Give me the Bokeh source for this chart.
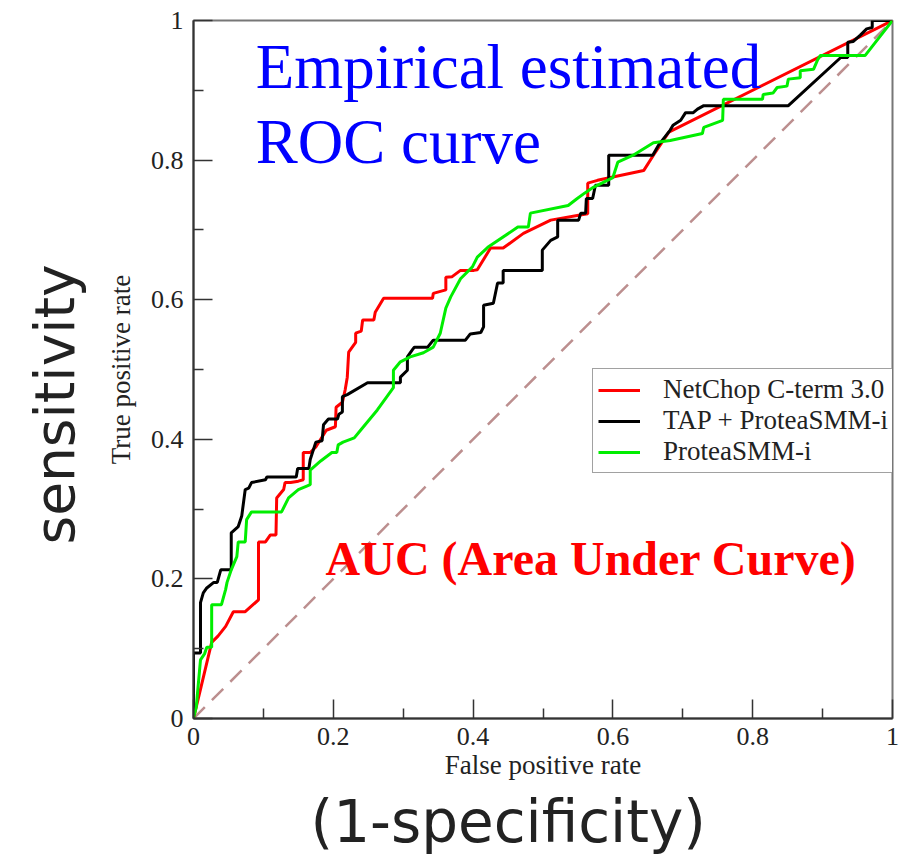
import math
from bokeh.plotting import figure
from bokeh.models import (Range1d, FixedTicker, CustomJSTickFormatter, Label,
                          Legend, LegendItem, Title)
from bokeh.embed import file_html
from bokeh.resources import INLINE

# ---------------- data ----------------
netchop_fpr = [0, 0.011, 0.026, 0.035, 0.046, 0.057, 0.074, 0.093, 0.093, 0.103, 0.110, 0.118,
               0.119, 0.129, 0.131, 0.139, 0.150, 0.157, 0.157, 0.167, 0.175, 0.190, 0.203,
               0.204, 0.213, 0.217, 0.220, 0.222, 0.232, 0.232, 0.240, 0.242, 0.258, 0.260,
               0.272, 0.342, 0.343, 0.361, 0.361, 0.370, 0.382, 0.401, 0.406, 0.425, 0.443,
               0.472, 0.511, 0.551, 0.564, 0.564, 0.578, 0.644, 0.658, 0.680, 1.0]
netchop_tpr = [0, 0.046, 0.109, 0.118, 0.132, 0.153, 0.153, 0.170, 0.253, 0.253, 0.263, 0.263,
               0.316, 0.328, 0.338, 0.338, 0.340, 0.342, 0.381, 0.381, 0.389, 0.413, 0.418,
               0.446, 0.453, 0.471, 0.489, 0.525, 0.539, 0.552, 0.555, 0.571, 0.571, 0.582,
               0.602, 0.602, 0.609, 0.614, 0.632, 0.633, 0.642, 0.642, 0.643, 0.674, 0.674,
               0.695, 0.714, 0.721, 0.723, 0.767, 0.771, 0.785, 0.807, 0.840, 1.0]

tap_fpr = [0, 0, 0.010, 0.010, 0.014, 0.019, 0.029, 0.034, 0.039, 0.054, 0.054, 0.064, 0.069,
           0.074, 0.079, 0.083, 0.103, 0.105, 0.147, 0.149, 0.165, 0.167, 0.175, 0.184, 0.186,
           0.193, 0.206, 0.208, 0.213, 0.213, 0.220, 0.249, 0.296, 0.296, 0.306, 0.306, 0.313,
           0.316, 0.335, 0.343, 0.389, 0.396, 0.411, 0.415, 0.415, 0.429, 0.435, 0.443, 0.443,
           0.499, 0.499, 0.511, 0.521, 0.521, 0.551, 0.554, 0.561, 0.562, 0.571, 0.575, 0.594,
           0.594, 0.657, 0.665, 0.682, 0.686, 0.697, 0.704, 0.715, 0.721, 0.730, 0.851, 0.926,
           0.936, 0.936, 0.944, 0.954, 0.963, 0.971, 0.971, 1.0]
tap_tpr = [0, 0.094, 0.094, 0.166, 0.180, 0.187, 0.195, 0.195, 0.213, 0.213, 0.266, 0.275, 0.290,
           0.328, 0.330, 0.338, 0.342, 0.346, 0.346, 0.358, 0.358, 0.371, 0.396, 0.398, 0.421,
           0.429, 0.429, 0.436, 0.439, 0.461, 0.464, 0.481, 0.481, 0.489, 0.499, 0.518, 0.528,
           0.532, 0.532, 0.542, 0.542, 0.551, 0.553, 0.561, 0.592, 0.595, 0.624, 0.624, 0.642,
           0.642, 0.671, 0.685, 0.690, 0.714, 0.714, 0.724, 0.724, 0.745, 0.745, 0.764, 0.764,
           0.807, 0.807, 0.821, 0.843, 0.850, 0.857, 0.868, 0.868, 0.873, 0.878, 0.878, 0.947,
           0.947, 0.969, 0.970, 0.979, 0.988, 0.990, 1.0, 1.0]

smm_fpr = [0, 0.004, 0.010, 0.016, 0.019, 0.026, 0.026, 0.040, 0.046, 0.048, 0.054, 0.062,
           0.064, 0.074, 0.076, 0.083, 0.126, 0.136, 0.150, 0.162, 0.167, 0.167, 0.182, 0.198,
           0.205, 0.207, 0.214, 0.230, 0.239, 0.263, 0.286, 0.286, 0.296, 0.310, 0.329, 0.343,
           0.353, 0.361, 0.368, 0.382, 0.399, 0.406, 0.421, 0.464, 0.479, 0.482, 0.536, 0.549,
           0.560, 0.572, 0.592, 0.600, 0.607, 0.629, 0.658, 0.682, 0.728, 0.730, 0.757, 0.758,
           0.814, 0.815, 0.829, 0.835, 0.849, 0.851, 0.868, 0.868, 0.887, 0.893, 0.897, 0.961,
           1.0]
smm_tpr = [0, 0.017, 0.084, 0.093, 0.102, 0.102, 0.163, 0.163, 0.185, 0.195, 0.213, 0.232,
           0.253, 0.253, 0.285, 0.296, 0.296, 0.316, 0.328, 0.333, 0.335, 0.356, 0.369, 0.381,
           0.381, 0.392, 0.396, 0.402, 0.413, 0.442, 0.474, 0.499, 0.511, 0.518, 0.524, 0.532,
           0.552, 0.588, 0.604, 0.630, 0.647, 0.661, 0.675, 0.704, 0.704, 0.724, 0.735, 0.745,
           0.753, 0.761, 0.771, 0.775, 0.797, 0.807, 0.825, 0.828, 0.838, 0.847, 0.857, 0.887,
           0.887, 0.894, 0.896, 0.904, 0.906, 0.916, 0.918, 0.928, 0.930, 0.944, 0.950, 0.950,
           1.0]

chance_fpr = [0, 1]
chance_tpr = [0, 1]

axis_ticks = [0, 0.2, 0.4, 0.6, 0.8, 1]
axis_minor_ticks = [0.1, 0.3, 0.5, 0.7, 0.9]

series_labels = ["NetChop C-term 3.0", "TAP + ProteaSMM-i", "ProteaSMM-i"]

# ---------------- figure ----------------
p = figure(width=899, height=859, output_backend="svg", toolbar_location=None,
           x_range=Range1d(0, 1), y_range=Range1d(0, 1),
           min_border_left=193, min_border_right=7, min_border_top=20, min_border_bottom=140,
           background_fill_color="white", border_fill_color="white")
p.title.visible = False
p.grid.visible = False
p.outline_line_color = "#777777"
p.outline_line_width = 2

for ax in (p.xaxis[0], p.yaxis[0]):
    ax.ticker = FixedTicker(ticks=axis_ticks, minor_ticks=axis_minor_ticks)
    ax.formatter = CustomJSTickFormatter(code="return String(Math.round(tick*10)/10);")
    ax.major_tick_in = 19
    ax.major_tick_out = 0
    ax.minor_tick_in = 10
    ax.minor_tick_out = 0
    ax.axis_line_color = "#333333"
    ax.axis_line_width = 2
    ax.major_tick_line_color = "#333333"
    ax.major_tick_line_width = 1.5
    ax.minor_tick_line_color = "#333333"
    ax.minor_tick_line_width = 1.5
    ax.major_label_text_font = "Liberation Serif"
    ax.major_label_text_font_size = "26px"
    ax.major_label_text_color = "#222222"
    ax.axis_label_text_font = "Liberation Serif"
    ax.axis_label_text_font_size = "27px"
    ax.axis_label_text_font_style = "normal"
    ax.axis_label_text_color = "#222222"

p.xaxis.axis_label = "False positive rate"
p.yaxis.axis_label = "True positive rate"
p.xaxis.major_label_standoff = 9
p.yaxis.major_label_standoff = 10
p.xaxis.axis_label_standoff = 2
p.yaxis.axis_label_standoff = 12

p.line(chance_fpr, chance_tpr, line_color="#bc8f8f", line_width=2.5, line_dash="16 10")
r_net = p.line(netchop_fpr, netchop_tpr, line_color="#ff0000", line_width=3)
r_tap = p.line(tap_fpr, tap_tpr, line_color="#000000", line_width=3)
r_smm = p.line(smm_fpr, smm_tpr, line_color="#00ee00", line_width=3)

legend = Legend(items=[LegendItem(label=series_labels[0], renderers=[r_net]),
                       LegendItem(label=series_labels[1], renderers=[r_tap]),
                       LegendItem(label=series_labels[2], renderers=[r_smm])],
                location=(399, 245), padding=5, spacing=0, margin=0,
                glyph_width=42, glyph_height=30, label_height=30, label_standoff=23,
                label_text_font="Liberation Serif", label_text_font_size="27px",
                label_text_color="#222222",
                border_line_color="#444444", border_line_width=1.5,
                background_fill_color="white", background_fill_alpha=1.0)
p.add_layout(legend)

# ---------------- annotations ----------------
p.add_layout(Label(x=0.089, y=0.933, text="Empirical estimated", text_font="Liberation Serif",
                   text_font_size="63px", text_color="#0000ff", text_baseline="alphabetic"))
p.add_layout(Label(x=0.089, y=0.826, text="ROC curve", text_font="Liberation Serif",
                   text_font_size="63px", text_color="#0000ff", text_baseline="alphabetic"))
p.add_layout(Label(x=0.189, y=0.229, text="AUC (Area Under Curve)", text_font="Liberation Serif",
                   text_font_size="48px", text_font_style="bold", text_color="#ff0000",
                   text_baseline="alphabetic"))

sens = Title(text="sensitivity", align="left", offset=174, standoff=28, vertical_align="top",
             text_font="DejaVu Sans", text_font_size="55px", text_font_style="normal",
             text_color="#222222")
p.add_layout(sens, "left")
spec = Title(text="(1-specificity)", align="left", offset=117, standoff=7,
             text_font="DejaVu Sans", text_font_size="58px", text_font_style="normal",
             text_color="#222222")
p.add_layout(spec, "below")

open("out.html", "w").write(file_html(p, INLINE))
